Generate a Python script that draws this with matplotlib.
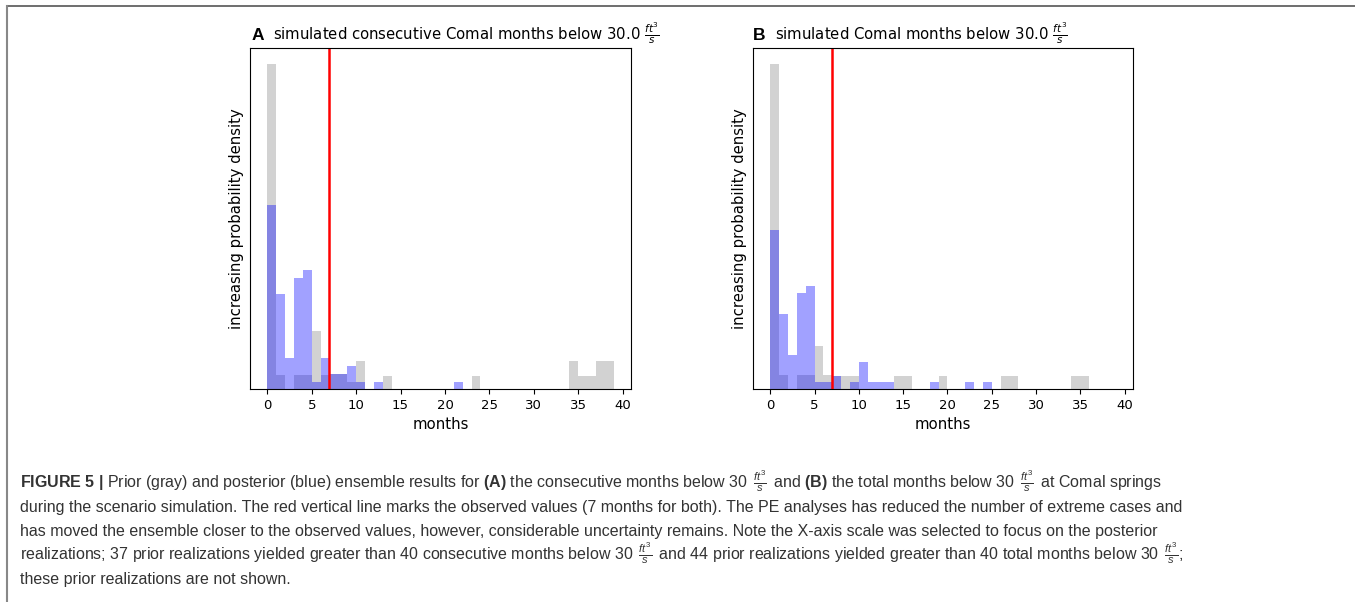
import numpy as np
import matplotlib
matplotlib.use("Agg")
import matplotlib.pyplot as plt
from matplotlib.lines import Line2D

# bins are one month wide, left edges 0..38
bin_left = np.arange(0, 39)

# relative bar heights (no y scale shown)
prior_consecutive = [0.972, 0.042, 0.0, 0.042, 0.042, 0.173, 0.042, 0.045, 0.045, 0.020,
                     0.085, 0.0, 0.0, 0.040, 0.0, 0.0, 0.0, 0.0, 0.0, 0.0,
                     0.0, 0.0, 0.0, 0.040, 0.0, 0.0, 0.0, 0.0, 0.0, 0.0,
                     0.0, 0.0, 0.0, 0.0, 0.085, 0.040, 0.040, 0.085, 0.085]
post_consecutive = [0.550, 0.285, 0.092, 0.333, 0.357, 0.020, 0.092, 0.045, 0.045, 0.068,
                    0.020, 0.0, 0.020, 0.0, 0.0, 0.0, 0.0, 0.0, 0.0, 0.0,
                    0.0, 0.020, 0.0, 0.0, 0.0, 0.0, 0.0, 0.0, 0.0, 0.0,
                    0.0, 0.0, 0.0, 0.0, 0.0, 0.0, 0.0, 0.0, 0.0]
prior_total = [0.972, 0.042, 0.0, 0.042, 0.042, 0.130, 0.042, 0.040, 0.040, 0.040,
               0.0, 0.0, 0.0, 0.0, 0.040, 0.040, 0.0, 0.0, 0.0, 0.040,
               0.0, 0.0, 0.0, 0.0, 0.0, 0.0, 0.040, 0.040, 0.0, 0.0,
               0.0, 0.0, 0.0, 0.0, 0.040, 0.040, 0.0, 0.0, 0.0]
post_total = [0.475, 0.225, 0.102, 0.287, 0.308, 0.020, 0.020, 0.040, 0.0, 0.020,
              0.080, 0.020, 0.020, 0.020, 0.0, 0.0, 0.0, 0.0, 0.020, 0.0,
              0.0, 0.0, 0.020, 0.0, 0.020, 0.0, 0.0, 0.0, 0.0, 0.0,
              0.0, 0.0, 0.0, 0.0, 0.0, 0.0, 0.0, 0.0, 0.0]
observed_months = 7

panel_letters = ["A", "B"]
panel_titles = [r"simulated consecutive Comal months below 30.0 $\frac{ft^3}{s}$",
                r"simulated Comal months below 30.0 $\frac{ft^3}{s}$"]

caption_lines = [
    r"$\mathbf{FIGURE\ 5\ |}$ Prior (gray) and posterior (blue) ensemble results for $\mathbf{(A)}$ the consecutive "
    r"months below 30 $\,\frac{ft^3}{s}\,$ and $\mathbf{(B)}$ the total months below 30 $\,\frac{ft^3}{s}\,$ at Comal springs",
    "during the scenario simulation. The red vertical line marks the observed values (7 months for both). "
    "The PE analyses has reduced the number of extreme cases and",
    "has moved the ensemble closer to the observed values, however, considerable uncertainty remains. "
    "Note the X-axis scale was selected to focus on the posterior",
    r"realizations; 37 prior realizations yielded greater than 40 consecutive months below 30 $\,\frac{ft^3}{s}\,$ "
    r"and 44 prior realizations yielded greater than 40 total months below 30 $\,\frac{ft^3}{s}$;",
    "these prior realizations are not shown.",
]

plt.rcParams['mathtext.rm'] = 'Liberation Sans'
plt.rcParams['mathtext.it'] = 'Liberation Sans:italic'
plt.rcParams['mathtext.bf'] = 'Liberation Sans:bold'

W, H = 1355, 602
fig = plt.figure(figsize=(W / 100, H / 100), dpi=100)

ax_a = fig.add_axes([250 / W, 1 - 389 / H, 381 / W, 341 / H])
ax_b = fig.add_axes([753 / W, 1 - 389 / H, 380 / W, 341 / H])

panels = [(ax_a, prior_consecutive, post_consecutive), (ax_b, prior_total, post_total)]
for i, (ax, prior, post) in enumerate(panels):
    ax.bar(bin_left, prior, width=1, align='edge', color='gray', alpha=0.35, linewidth=0)
    ax.bar(bin_left, post, width=1, align='edge', color='blue', alpha=0.37, linewidth=0)
    ax.axvline(observed_months, color='red', lw=1.8)
    ax.set_yticks([])
    ax.set_xticks(np.arange(0, 41, 5))
    ax.tick_params(axis='x', labelsize=9.5)
    ax.set_xlabel("months", fontsize=10.7)
    ax.set_ylabel("increasing probability density", fontsize=10.7)
    ax.text(0.004 if i == 0 else 0.0, 1.023, panel_letters[i], transform=ax.transAxes,
            fontsize=12.5, fontweight='bold', family='Liberation Sans', va='baseline')
    ax.text(0.061 if i == 0 else 0.057, 1.023, panel_titles[i], transform=ax.transAxes,
            fontsize=10.7, va='baseline')

# caption under the charts
for k, line in enumerate(caption_lines):
    fig.text(20 / W, 1 - (488 + 24 * k) / H, line, ha='left', va='baseline',
             fontsize=11.5, family='Liberation Sans', color='#333333', math_fontfamily='custom')

# frame (top and left edges only)
fig.add_artist(Line2D([7.5 / W, 1], [1 - 6 / H, 1 - 6 / H], transform=fig.transFigure,
                      color='#555555', lw=1.2))
fig.add_artist(Line2D([7.5 / W, 7.5 / W], [0, 1 - 6 / H], transform=fig.transFigure,
                      color='#888888', lw=1.5))

fig.savefig("out.png", dpi=100)
